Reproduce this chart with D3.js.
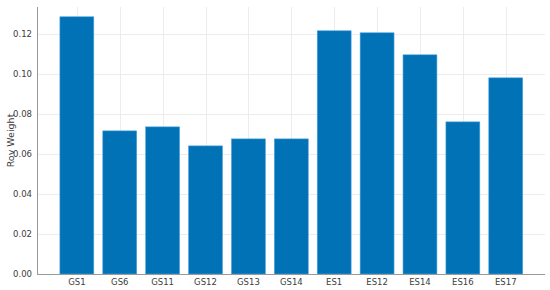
<!DOCTYPE html>
<html>
<head>
<meta charset="utf-8">
<script src="https://cdn.jsdelivr.net/npm/d3@7"></script>
<style>
  body { margin: 0; background: #fff; }
  text { font-family: "DejaVu Sans", sans-serif; }
</style>
</head>
<body>
<svg width="550" height="290"></svg>
<script>
// DATA
var categories = ["GS1", "GS6", "GS11", "GS12", "GS13", "GS14", "ES1", "ES12", "ES14", "ES16", "ES17"];
var weights = [0.1285, 0.0715, 0.0735, 0.064, 0.0675, 0.0675, 0.1215, 0.1205, 0.1095, 0.076, 0.098];
var yTicks = [0, 0.02, 0.04, 0.06, 0.08, 0.10, 0.12];

// SETUP
var svg = d3.select("svg"),
    plotLeft = 37, plotRight = 545, plotTop = 7, plotBottom = 274;

var x = d3.scaleBand()
    .domain(categories)
    .range([55.4, 527.2])
    .paddingInner(0.21)
    .paddingOuter(0.105);

var y = d3.scaleLinear()
    .domain([0, 0.12])
    .range([plotBottom, 33.8]);

// grid
var grid = svg.append("g").attr("stroke", "#ececec").attr("stroke-width", 1);
grid.selectAll(".hg").data(yTicks.slice(1)).enter().append("line")
    .attr("x1", plotLeft).attr("x2", plotRight)
    .attr("y1", function (d) { return Math.round(y(d)) + 0.5; })
    .attr("y2", function (d) { return Math.round(y(d)) + 0.5; });
grid.selectAll(".vg").data(categories).enter().append("line")
    .attr("y1", plotTop).attr("y2", plotBottom)
    .attr("x1", function (d) { return Math.round(x(d) + x.bandwidth() / 2) + 0.5; })
    .attr("x2", function (d) { return Math.round(x(d) + x.bandwidth() / 2) + 0.5; });

// bars
svg.selectAll(".bar").data(weights).enter().append("rect")
    .attr("class", "bar")
    .attr("x", function (d, i) { return x(categories[i]); })
    .attr("y", function (d) { return y(d); })
    .attr("width", x.bandwidth())
    .attr("height", function (d) { return plotBottom - y(d); })
    .attr("fill", "#0072b5")
    .attr("stroke", "#4aa3dd")
    .attr("stroke-width", 0.6);

// axes
var yAxis = svg.append("g")
    .attr("transform", "translate(" + plotLeft + ",0)")
    .call(d3.axisLeft(y).tickValues(yTicks).tickFormat(d3.format(".2f")).tickSize(0).tickPadding(5));
yAxis.select(".domain").attr("stroke", "#999").attr("d", "M0.5," + plotTop + "V" + plotBottom);
yAxis.selectAll("text").attr("fill", "#3c3c3c").style("font-size", "8.5px");

var xAxis = svg.append("g")
    .attr("transform", "translate(0," + plotBottom + ")")
    .call(d3.axisBottom(x).tickSize(0).tickPadding(5));
xAxis.select(".domain").attr("stroke", "#999").attr("d", "M" + plotLeft + ",0.5H" + plotRight);
xAxis.selectAll("text").attr("fill", "#3c3c3c").style("font-size", "8.5px");

svg.append("text")
    .attr("transform", "translate(13.5," + ((plotTop + plotBottom) / 2) + ") rotate(-90)")
    .attr("text-anchor", "middle")
    .attr("fill", "#3c3c3c")
    .style("font-size", "9.5px")
    .text("Rov Weight");
</script>
</body>
</html>
